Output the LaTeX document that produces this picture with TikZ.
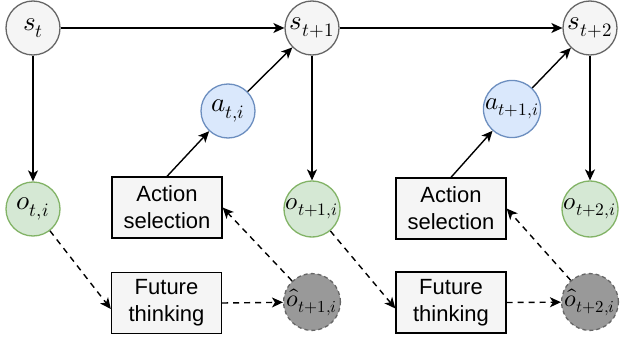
\documentclass[tikz,border=0pt]{standalone}
\usepackage{fontspec}
\setmainfont{Liberation Sans}
\usepackage{unicode-math}
\setmathfont{Latin Modern Math}
\usetikzlibrary{arrows.meta}
\definecolor{sfill}{HTML}{F5F5F5}
\definecolor{sdraw}{HTML}{666666}
\definecolor{afill}{HTML}{DAE8FC}
\definecolor{adraw}{HTML}{6C8EBF}
\definecolor{ofill}{HTML}{D5E8D4}
\definecolor{odraw}{HTML}{82B366}
\definecolor{hfill}{HTML}{999999}
\tikzset{
  circ/.style={circle, minimum size=54pt, inner sep=0pt, line width=1.3pt},
  snode/.style={circ, draw=sdraw, fill=sfill},
  anode/.style={circ, draw=adraw, fill=afill},
  onode/.style={circ, draw=odraw, fill=ofill},
  hnode/.style={circ, draw=sdraw, fill=hfill, dashed, dash pattern=on 4pt off 3pt},
  mlabel/.style={font=\fontsize{27}{30}\selectfont},
  box/.style={draw=black, fill=sfill, line width=1.3pt, minimum width=110pt, minimum height=61pt,
    align=center, inner sep=0pt, font=\fontsize{22}{27}\selectfont},
  arr/.style={line width=1.4pt, -{Stealth[length=11pt,width=10pt,inset=3pt]}},
  darr/.style={arr, dash pattern=on 6pt off 5pt},
}
\begin{document}
\begin{tikzpicture}[x=1pt,y=-1pt]
\useasboundingbox (0,0) rectangle (621,345);
\node[snode, mlabel] (s0) at (33,28) {$s_t$};
\node[snode, mlabel] (s1) at (312,28) {$s_{t+1}$};
\node[snode, mlabel] (s2) at (590,28) {$s_{t+2}$};
\node[anode, mlabel] (a0) at (228,111) {$a_{t,i}$};
\node[anode, font=\fontsize{25}{28}\selectfont] (a1) at (512,109) {$a_{t+1,i}$};
\node[onode, mlabel] (o0) at (33,209) {$o_{t,i}$};
\node[onode, font=\fontsize{25}{28}\selectfont] (o1) at (312,209) {$o_{t+1,i}$};
\node[onode, font=\fontsize{25}{28}\selectfont] (o2) at (590,209) {$o_{t+2,i}$};
\node[hnode, font=\fontsize{24}{28}\selectfont] (h1) at (312,302) {$\hat{o}_{t+1,i}$};
\node[hnode, font=\fontsize{24}{28}\selectfont] (h2) at (590,302) {$\hat{o}_{t+2,i}$};
\node[box] (as0) at (167,207.5) {Action\\selection};
\node[box] (as1) at (451,208.5) {Action\\selection};
\node[box] (ft0) at (166.5,303) {Future\\thinking};
\node[box] (ft1) at (451,302.5) {Future\\thinking};
% solid arrows
\draw[arr] (s0) -- (s1);
\draw[arr] (s1) -- (s2);
\draw[arr] (s0) -- (o0);
\draw[arr] (s1) -- (o1);
\draw[arr] (s2) -- (o2);
\draw[arr] (a0) -- (s1);
\draw[arr] (a1) -- (s2);
\draw[arr] (as0.north) -- (a0);
\draw[arr] (as1.north) -- (a1);
% dashed arrows
\draw[darr] (o0) -- ([yshift=-6pt]ft0.west);
\draw[darr] (o1) -- ([yshift=-6pt]ft1.west);
\draw[darr] (ft0.east) -- (h1);
\draw[darr] (ft1.east) -- (h2);
\draw[darr] (h1) -- (as0.east);
\draw[darr] (h2) -- (as1.east);
\end{tikzpicture}
\end{document}
